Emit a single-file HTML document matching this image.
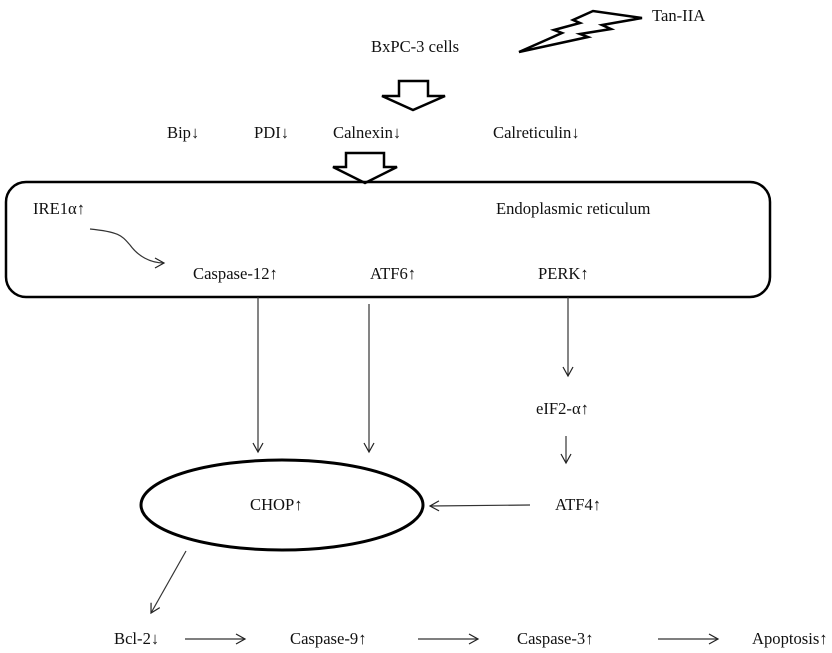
<!DOCTYPE html>
<html><head><meta charset="utf-8"><style>
html,body{margin:0;padding:0;background:#fff}
svg{display:block}
text{font-family:"Liberation Serif",serif;font-size:16.6px;fill:#111}
</style></head><body>
<svg width="832" height="653" viewBox="0 0 832 653" xmlns="http://www.w3.org/2000/svg">
<defs>
<marker id="a" markerWidth="12" markerHeight="12" refX="10" refY="6" orient="auto" markerUnits="userSpaceOnUse">
<path d="M1,1 L10,6 L1,11" fill="none" stroke="#222" stroke-width="1.2"/>
</marker>
</defs>
<!-- lightning -->
<polygon points="519,52 562,33 554,30 580,23 573,20 593,11 642,18 602,25 611,29 580,34 588,37" fill="none" stroke="#000" stroke-width="2.5" stroke-linejoin="miter"/>
<text x="652" y="21">Tan-IIA</text>
<text x="371" y="52">BxPC-3 cells</text>
<!-- hollow arrow 1 -->
<polygon points="399,81 428,81 428,96 445,96 413,110 382,96 399,96" fill="#fff" stroke="#000" stroke-width="2.5"/>
<text x="167" y="138">Bip↓</text>
<text x="254" y="138">PDI↓</text>
<text x="333" y="138">Calnexin↓</text>
<text x="493" y="138">Calreticulin↓</text>
<!-- hollow arrow 2 -->
<polygon points="346,153 384,153 384,167 397,167 365,183 333,167 346,167" fill="#fff" stroke="#000" stroke-width="2.5"/>
<!-- ER box -->
<rect x="6" y="182" width="764" height="115" rx="20" ry="20" fill="none" stroke="#000" stroke-width="2.5"/>
<text x="33" y="214">IRE1α↑</text>
<text x="496" y="214">Endoplasmic reticulum</text>
<path d="M90,229 C120,232 122,236 130,245 C138,256 150,263 164,263" fill="none" stroke="#333" stroke-width="1.2" marker-end="url(#a)"/>
<text x="193" y="279">Caspase-12↑</text>
<text x="370" y="279">ATF6↑</text>
<text x="538" y="279">PERK↑</text>
<!-- vertical arrows -->
<line x1="258" y1="297" x2="258" y2="452" stroke="#333" stroke-width="1.2" marker-end="url(#a)"/>
<line x1="369" y1="304" x2="369" y2="452" stroke="#333" stroke-width="1.2" marker-end="url(#a)"/>
<line x1="568" y1="297" x2="568" y2="376" stroke="#333" stroke-width="1.2" marker-end="url(#a)"/>
<text x="536" y="414">eIF2-α↑</text>
<line x1="566" y1="436" x2="566" y2="463" stroke="#333" stroke-width="1.2" marker-end="url(#a)"/>
<!-- ellipse -->
<ellipse cx="282" cy="505" rx="141" ry="45" fill="none" stroke="#000" stroke-width="3"/>
<text x="250" y="510">CHOP↑</text>
<text x="555" y="510">ATF4↑</text>
<line x1="530" y1="505" x2="430" y2="506" stroke="#333" stroke-width="1.2" marker-end="url(#a)"/>
<line x1="186" y1="551" x2="151" y2="613" stroke="#333" stroke-width="1.2" marker-end="url(#a)"/>
<!-- bottom row -->
<text x="114" y="644">Bcl-2↓</text>
<line x1="185" y1="639" x2="245" y2="639" stroke="#333" stroke-width="1.2" marker-end="url(#a)"/>
<text x="290" y="644">Caspase-9↑</text>
<line x1="418" y1="639" x2="478" y2="639" stroke="#333" stroke-width="1.2" marker-end="url(#a)"/>
<text x="517" y="644">Caspase-3↑</text>
<line x1="658" y1="639" x2="718" y2="639" stroke="#333" stroke-width="1.2" marker-end="url(#a)"/>
<text x="752" y="644">Apoptosis↑</text>
</svg>
</body></html>
